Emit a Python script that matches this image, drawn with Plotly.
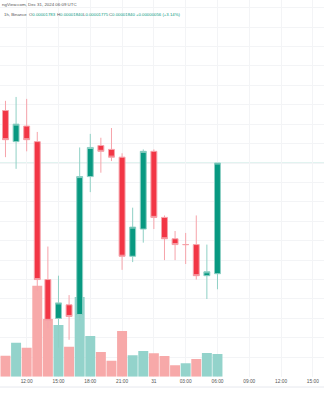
import pandas as pd
import plotly.graph_objects as go

# PEPE/USDT 1h candles, Binance
times = pd.date_range("2024-12-30 10:00", "2024-12-31 06:00", freq="h")
opens = [0.00001867, 0.00001851, 0.00001859, 0.00001851, 0.00001780, 0.00001760, 0.00001767,
         0.00001762, 0.00001833, 0.00001849, 0.00001847, 0.00001843, 0.00001792, 0.00001806,
         0.00001846, 0.00001812, 0.00001801, 0.00001798, 0.00001798, 0.00001782, 0.00001783]
highs = [0.00001872, 0.00001874, 0.00001873, 0.00001856, 0.00001797, 0.00001782, 0.00001772,
         0.00001848, 0.00001855, 0.00001853, 0.00001858, 0.00001845, 0.00001817, 0.00001847,
         0.00001847, 0.00001813, 0.00001805, 0.00001804, 0.00001813, 0.00001798, 0.00001840]
lows = [0.00001843, 0.00001837, 0.00001846, 0.00001774, 0.00001755, 0.00001745, 0.00001749,
        0.00001759, 0.00001825, 0.00001835, 0.00001841, 0.00001785, 0.00001789, 0.00001799,
        0.00001806, 0.00001790, 0.00001790, 0.00001788, 0.00001780, 0.00001770, 0.00001775]
closes = [0.00001852, 0.00001860, 0.00001852, 0.00001780, 0.00001759, 0.00001768, 0.00001761,
          0.00001833, 0.00001848, 0.00001846, 0.00001843, 0.00001792, 0.00001807, 0.00001846,
          0.00001812, 0.00001801, 0.00001798, 0.00001798, 0.00001782, 0.00001784, 0.00001840]
# volume, billions
volumes = [21.0, 34.0, 29.0, 91.0, 57.7, 51.7, 30.0, 79.7, 40.7, 24.7, 16.0, 45.7, 21.4, 25.7,
           23.4, 20.7, 11.4, 13.4, 17.7, 23.7, 22.7]

tick_vals = ["2024-12-30 12:00", "2024-12-30 15:00", "2024-12-30 18:00", "2024-12-30 21:00",
             "2024-12-31 00:00", "2024-12-31 03:00", "2024-12-31 06:00", "2024-12-31 09:00",
             "2024-12-31 12:00", "2024-12-31 15:00"]
tick_text = ["12:00", "15:00", "18:00", "21:00", "31", "03:00", "06:00", "09:00", "12:00", "15:00"]

UP, DOWN = "#089981", "#f23645"
UP_VOL, DOWN_VOL = "#93d3cb", "#f7a9a9"
vol_colors = [UP_VOL if c >= o else DOWN_VOL for o, c in zip(opens, closes)]

fig = go.Figure()
fig.add_trace(go.Bar(x=times, y=volumes, marker=dict(color=vol_colors, line_width=0),
                     yaxis="y", showlegend=False))
fig.add_trace(go.Candlestick(
    x=times, open=opens, high=highs, low=lows, close=closes, yaxis="y2",
    increasing=dict(fillcolor=UP, line=dict(color="#8fd0c5", width=1)),
    decreasing=dict(fillcolor=DOWN, line=dict(color="#f6a3aa", width=1)),
    whiskerwidth=0, showlegend=False))

last_close = closes[-1]
fig.add_shape(type="line", xref="paper", x0=0, x1=1, yref="y2", y0=last_close, y1=last_close,
              line=dict(color="#c4e6e1", width=1), layer="below")
fig.add_shape(type="line", xref="paper", x0=0, x1=1, yref="paper", y0=0.0325, y1=0.0325,
              line=dict(color="#e6e8ee", width=1))

font = "Liberation Sans, Arial, sans-serif"
hdr = dict(xref="paper", yref="paper", showarrow=False, xanchor="left", yanchor="middle")
fig.add_annotation(text="ngView.com, Dec 31, 2024 06:09 UTC", x=0, y=1 - 5 / 400,
                   font=dict(family=font, size=4.4, color="#555"), **hdr)
line2 = dict(family=font, size=4.3, color="#555")
fig.add_annotation(text="1h, Binance", x=2 / 324, y=1 - 14 / 400, font=line2, **hdr)
ohlc = [("O", opens[-1], 27), ("H", highs[-1], 55), ("L", lows[-1], 81), ("C", closes[-1], 107)]
for lab, val, px in ohlc:
    fig.add_annotation(text=f"{lab}<span style='color:{UP}'>{val:.8f}</span>",
                       x=px / 324, y=1 - 14 / 400, font=line2, **hdr)
chg = closes[-1] - closes[-2]
pct = chg / closes[-2] * 100
fig.add_annotation(text=f"<span style='color:{UP}'>+{chg:.8f} (+{pct:.2f}%)</span>",
                   x=134 / 324, y=1 - 14 / 400, font=line2, **hdr)

fig.update_layout(
    width=324, height=400, margin=dict(l=0, r=0, t=0, b=0),
    paper_bgcolor="white", plot_bgcolor="white",
    bargap=0.06, boxgap=0.2,
    xaxis=dict(type="date", range=["2024-12-30 09:29", "2024-12-31 16:03"],
               rangeslider=dict(visible=False), tickvals=tick_vals, ticktext=tick_text,
               showgrid=True, gridcolor="#f3f4f6", gridwidth=1, zeroline=False, showline=False,
               ticks="", tickfont=dict(family=font, size=4.8, color="#555"), domain=[0, 1]),
    yaxis=dict(domain=[23.3 / 400, 1], range=[0, 376.7], showgrid=False, zeroline=False,
               showticklabels=False, fixedrange=True),
    yaxis2=dict(overlaying="y", range=[0.00001730, 0.000019239], showgrid=True,
                gridcolor="#f3f4f6", dtick=0.0000001, tick0=0, zeroline=False,
                showticklabels=False),
)

fig.write_html("out.html")
